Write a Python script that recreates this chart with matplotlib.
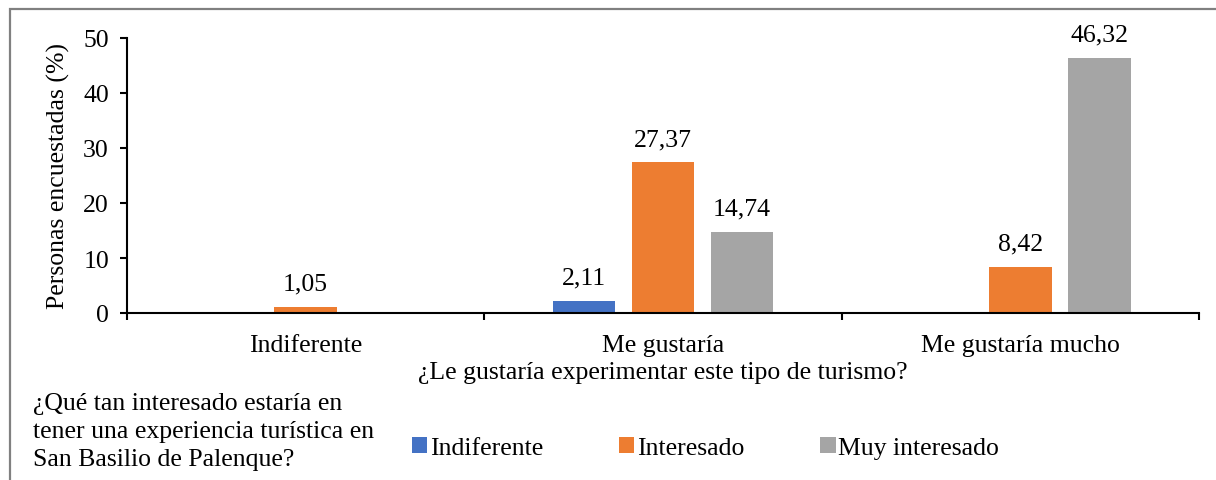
import numpy as np
import matplotlib
matplotlib.use("Agg")
import matplotlib.pyplot as plt
from matplotlib.patches import Rectangle

plt.rcParams["font.family"] = ["Liberation Serif", "DejaVu Serif"]
plt.rcParams["font.size"] = 18.5

categories = ["Indiferente", "Me gustaría", "Me gustaría mucho"]
series_names = ["Indiferente", "Interesado", "Muy interesado"]
indiferente = [0.0, 2.11, 0.0]
interesado = [1.05, 27.37, 8.42]
muy_interesado = [0.0, 14.74, 46.32]
colors = ["#4472C4", "#ED7D31", "#A5A5A5"]

fig = plt.figure(figsize=(12.16, 4.81), dpi=100)
ax = fig.add_axes([127 / 1216, 1 - 314 / 481, (1199 - 127) / 1216, (314 - 39) / 481])

x = np.arange(len(categories))
width = 0.175
step = 0.221
for i, (name, vals, c) in enumerate(zip(series_names, [indiferente, interesado, muy_interesado], colors)):
    bars = ax.bar(x + (i - 1) * step, vals, width, color=c, label=name)
    labels = [f"{v:.2f}".replace(".", ",") if v > 0 else "" for v in vals]
    ax.bar_label(bars, labels=labels, padding=9)

ax.set_xlim(-0.5, 2.5)
ax.set_ylim(0, 50)
ax.set_yticks([0, 10, 20, 30, 40, 50])
ax.set_xticks(x)
ax.set_xticklabels(categories)
ax.set_xticks([-0.5, 0.5, 1.5, 2.5], minor=True)
ax.tick_params(axis="x", which="major", length=0, pad=15)
ax.tick_params(axis="x", which="minor", length=5, width=1.5, direction="out")
ax.tick_params(axis="y", length=5, width=1.5, pad=8)
for s in ["top", "right"]:
    ax.spines[s].set_visible(False)
for s in ["left", "bottom"]:
    ax.spines[s].set_linewidth(1.5)

ax.set_ylabel("Personas encuestadas (%)")
ax.yaxis.set_label_coords(-(127 - 70) / 1072, 0.5)
ax.set_xlabel("¿Le gustaría experimentar este tipo de turismo?", labelpad=4)

fig.text(33 / 1216, 1 - 432 / 481,
         "¿Qué tan interesado estaría en\ntener una experiencia turística en\nSan Basilio de Palenque?",
         ha="left", va="center", linespacing=1.36)

fig.legend(loc="center left", bbox_to_anchor=(412 / 1216, 1 - 449 / 481), ncol=3,
           frameon=False, handlelength=0.6, handleheight=0.6, handletextpad=0.1,
           columnspacing=2.95, borderpad=0, borderaxespad=0)

fig.patches.append(Rectangle((10 / 1216, -0.05), 1.1, 1 - 10 / 481 + 0.05,
                             transform=fig.transFigure, fill=False,
                             edgecolor="#808080", linewidth=1.6))

fig.savefig("out.png", dpi=100)
